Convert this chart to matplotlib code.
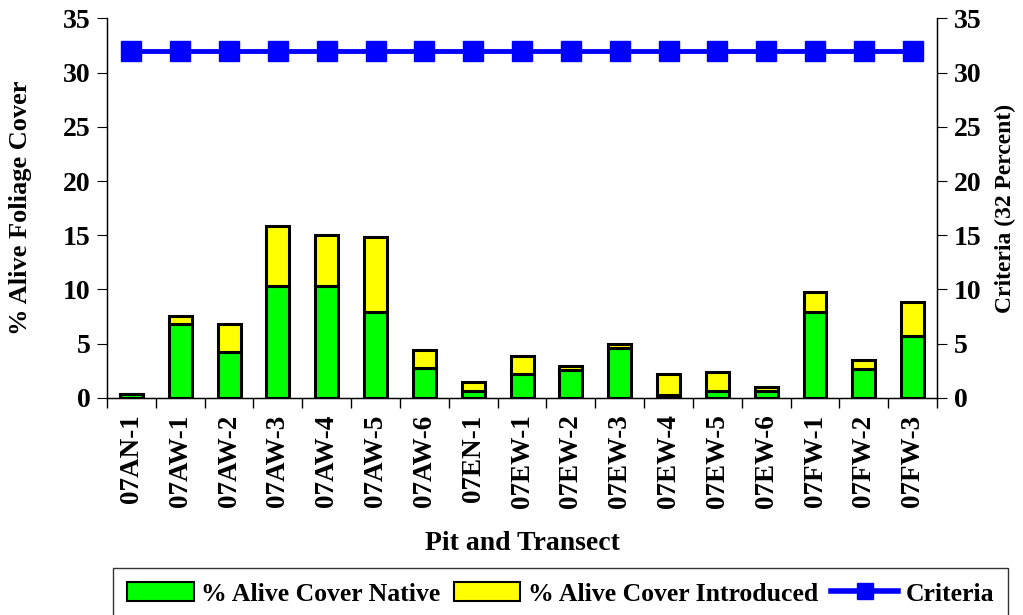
import matplotlib
matplotlib.use("Agg")
import matplotlib.pyplot as plt
import numpy as np
from matplotlib.patches import Patch
from matplotlib.lines import Line2D

categories = ["07AN-1", "07AW-1", "07AW-2", "07AW-3", "07AW-4", "07AW-5", "07AW-6",
              "07EN-1", "07EW-1", "07EW-2", "07EW-3", "07EW-4", "07EW-5", "07EW-6",
              "07FW-1", "07FW-2", "07FW-3"]
native = [0.35, 6.8, 4.25, 10.35, 10.35, 7.95, 2.73, 0.65, 2.17, 2.57, 4.57, 0.31, 0.68, 0.68, 7.92, 2.7, 5.71]
total = [0.35, 7.6, 6.86, 15.9, 15.0, 14.8, 4.44, 1.45, 3.85, 2.94, 5.0, 2.17, 2.39, 1.05, 9.81, 3.48, 8.88]
introduced = [t - n for t, n in zip(total, native)]
criteria = [32] * len(categories)

plt.rcParams['font.family'] = ['Liberation Serif', 'DejaVu Serif']
plt.rcParams['font.weight'] = 'bold'

fig = plt.figure(figsize=(10.23, 6.15), dpi=100)
ax = fig.add_axes([0.1046, 0.353, 0.8114, 0.617])
x = np.arange(len(categories))
w = 0.47
ax.bar(x, native, w, color='#00FF00', edgecolor='black', linewidth=2.2, zorder=3)
ax.bar(x, introduced, w, bottom=native, color='#FFFF00', edgecolor='black', linewidth=2.2, zorder=3)

ax.set_xlim(-0.5, len(categories) - 0.5)
ax.set_ylim(0, 35)
ax.set_yticks(range(0, 36, 5))
ax.set_xticks(x)
ax.set_xticklabels(categories, rotation=90, fontsize=19.5, fontweight='bold')
ax.set_xticks(np.arange(-0.5, len(categories), 1), minor=True)
ax.tick_params(axis='x', which='major', length=0, pad=12)
ax.tick_params(axis='x', which='minor', length=7, direction='out', width=1)
ax.tick_params(axis='y', length=7, direction='out', labelsize=20, pad=5)
for lab in ax.get_yticklabels():
    lab.set_fontweight('bold')
ax.spines['top'].set_visible(False)
for s in ['left', 'bottom', 'right']:
    ax.spines[s].set_linewidth(1)
ax.set_ylabel('% Alive Foliage Cover', fontsize=19, fontweight='bold', labelpad=22)
ax.set_xlabel('Pit and Transect', fontsize=20, fontweight='bold', labelpad=16)

ax2 = ax.twinx()
ax2.plot(x, criteria, color='#0000FF', linewidth=3.5, marker='s', markersize=14, zorder=4)
ax2.set_ylim(0, 35)
ax2.set_yticks(range(0, 36, 5))
ax2.tick_params(axis='y', length=7, direction='out', labelsize=20, pad=5)
for lab in ax2.get_yticklabels():
    lab.set_fontweight('bold')
ax2.spines['top'].set_visible(False)
ax2.set_ylabel('Criteria (32 Percent)', fontsize=17, fontweight='bold', labelpad=10)

handles = [Patch(facecolor='#00FF00', edgecolor='black', linewidth=1.5),
           Patch(facecolor='#FFFF00', edgecolor='black', linewidth=1.5),
           Line2D([], [], color='#0000FF', linewidth=4, marker='s', markersize=12)]
labels = ['% Alive Cover Native', '% Alive Cover Introduced', 'Criteria']
leg = fig.legend(handles, labels, loc='upper center', bbox_to_anchor=(0.548, 0.0764),
                 ncol=3, fontsize=18.5, frameon=True, fancybox=False,
                 edgecolor='black', handlelength=2.6, handleheight=0.75, handletextpad=0.3,
                 columnspacing=0.5, borderpad=0.55, borderaxespad=0)
leg.get_frame().set_linewidth(1)
for t in leg.get_texts():
    t.set_fontweight('bold')

fig.savefig('out.png', dpi=100)
